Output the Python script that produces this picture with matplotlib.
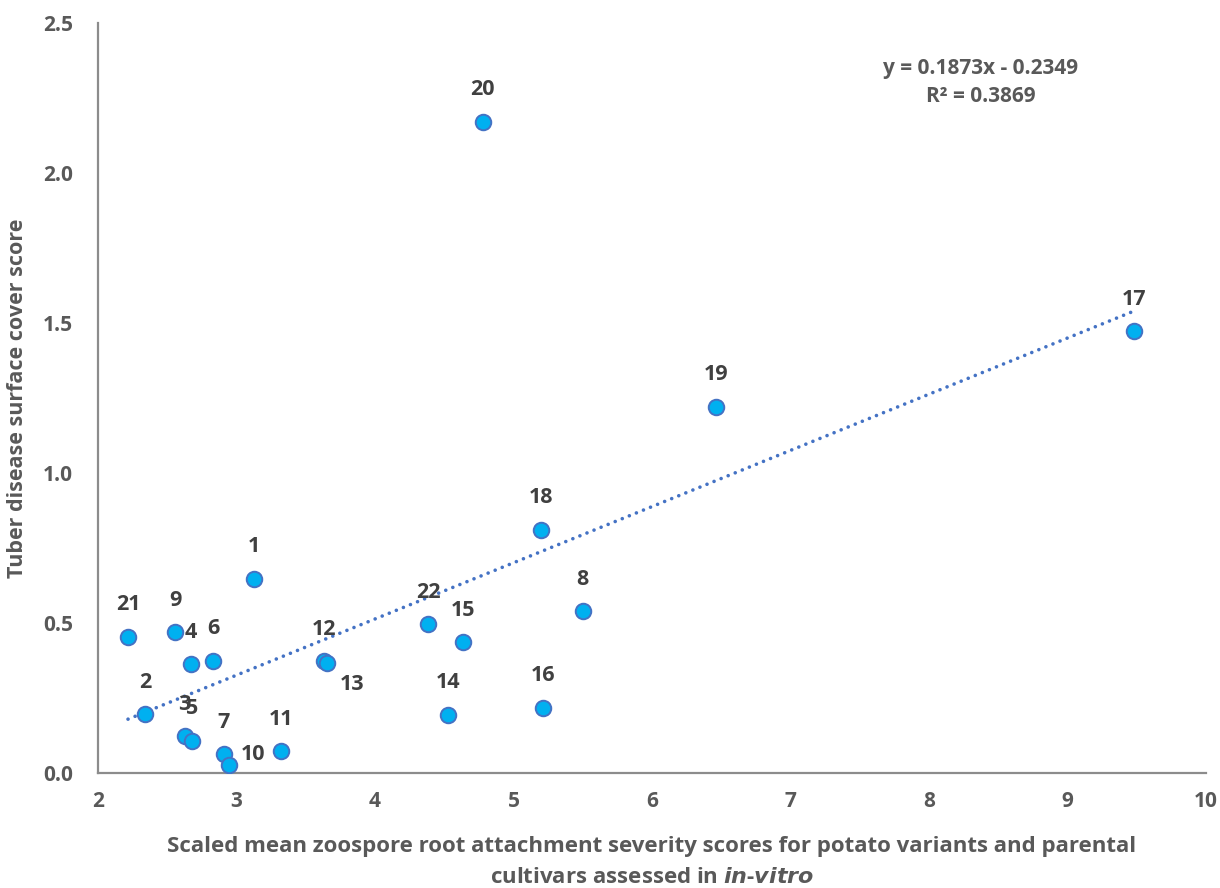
import matplotlib.pyplot as plt
import numpy as np

plt.rcParams['font.family'] = ['Open Sans', 'DejaVu Sans']
plt.rcParams['font.weight'] = 'bold'

# zoospore root attachment score vs tuber disease cover, per variant
ids = ['1', '2', '3', '4', '5', '6', '7', '8', '9', '10', '11',
       '12', '13', '14', '15', '16', '17', '18', '19', '20', '21', '22']
root_score = [3.124, 2.339, 2.626, 2.669, 2.682, 2.830, 2.908, 5.500, 2.559, 2.946, 3.324,
              3.632, 3.651, 4.527, 4.638, 5.211, 9.478, 5.196, 6.460, 4.778, 2.217, 4.383]
tuber_score = [0.648, 0.197, 0.124, 0.364, 0.109, 0.375, 0.064, 0.540, 0.470, 0.028, 0.074,
               0.373, 0.368, 0.195, 0.437, 0.219, 1.474, 0.811, 1.221, 2.171, 0.455, 0.497]

slope, intercept, r2 = 0.1873, -0.2349, 0.3869

fig = plt.figure(figsize=(12.2, 8.88), dpi=100)
ax = fig.add_axes([0.0803, 0.1292, 0.9082, 0.8446])

# linear trendline over the data range
x = np.array(root_score)
xs = np.array([x.min(), x.max()])
ax.plot(xs, slope * xs + intercept, color='#4472C4', lw=2.6,
        linestyle=(0, (0.01, 2.1)), dash_capstyle='round', zorder=2)

ax.scatter(root_score, tuber_score, s=125, c='#00B0F0', edgecolors='#4472C4',
           linewidths=1.4, zorder=3)

# most labels sit above the marker; a couple are nudged aside
offsets = {'13': (25, -22), '10': (24, 10)}
for lab, xv, yv in zip(ids, root_score, tuber_score):
    dx, dy = offsets.get(lab, (0, 32))
    ax.annotate(lab, (xv, yv), xytext=(dx * 0.72, dy * 0.72), textcoords='offset points',
                ha='center', va='center', fontsize=15.5, fontweight='bold', color='#404040',
                zorder=4)

ax.text(0.797, 0.921, f'y = {slope}x - {abs(intercept)}\nR² = {r2}', transform=ax.transAxes,
        ha='center', va='center', fontsize=15, fontweight='bold', color='#595959',
        linespacing=1.45)

ax.set_xlim(2, 10)
ax.set_ylim(0, 2.5)
ax.set_xticks(range(2, 11))
ax.set_yticks(np.arange(0, 2.51, 0.5))
ax.set_yticklabels([f'{v:.1f}' for v in np.arange(0, 2.51, 0.5)])
ax.tick_params(length=0, labelsize=15, labelcolor='#595959', pad=18)
ax.tick_params(axis='x', pad=13)

for side in ['top', 'right']:
    ax.spines[side].set_visible(False)
for side in ['left', 'bottom']:
    ax.spines[side].set_color('#8C8C8C')
    ax.spines[side].set_linewidth(1.6)

ax.set_ylabel('Tuber disease surface cover score', fontsize=15.5, fontweight='bold',
              color='#595959', labelpad=11)
ax.set_xlabel('Scaled mean zoospore root attachment severity scores for potato variants and parental\n'
              'cultivars assessed in $\\bf{\\it{in}}$-$\\bf{\\it{vitro}}$',
              fontsize=16, fontweight='bold', color='#595959', labelpad=17, linespacing=1.6)

fig.savefig('out.png', dpi=100)
